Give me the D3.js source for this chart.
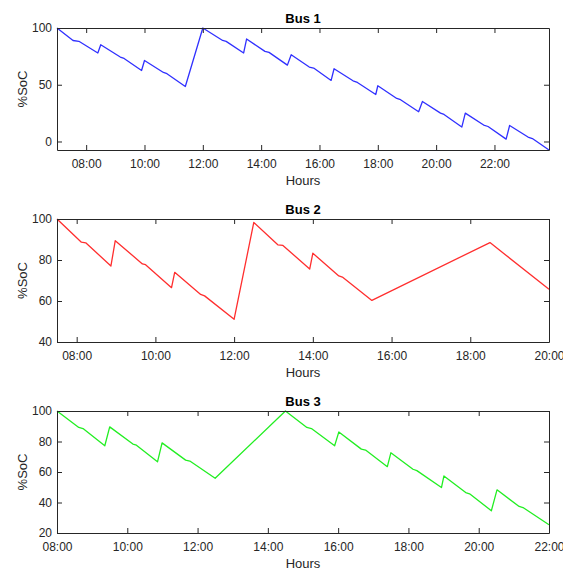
<!DOCTYPE html>
<html><head><meta charset="utf-8">
<script src="https://cdn.jsdelivr.net/npm/d3@7"></script>
<style>body{margin:0;background:#fff}svg{display:block}text{font-family:"Liberation Sans",Arial,sans-serif}</style>
</head><body>
<svg id="c" width="563" height="570"></svg>
<script>
// ---- data (hours as decimal, SoC in %) ----
const bus1Hours = [7.0,7.55,7.75,8.4,8.5,9.17,9.3,9.9,10.0,10.65,10.77,11.4,12.0,12.68,12.8,13.4,13.5,14.13,14.27,14.9,15.03,15.65,15.8,16.4,16.5,17.15,17.3,17.93,18.0,18.65,18.78,19.4,19.53,20.15,20.27,20.88,21.0,21.63,21.78,22.4,22.52,23.15,23.3,23.87];
const bus1SoC   = [100,89,88.3,78,85.3,74.4,73.2,62.6,71.4,60.8,59.7,48.5,100,89,88.2,78,90.3,79.4,78.5,67.3,76.5,65.6,64.7,53.8,64.1,53.5,52,41.4,49.1,37.9,36.8,26.2,35.3,25,23.8,12.7,25,14.5,13.2,2.1,14.1,3.9,2.6,-7.5];
const bus2Hours = [7.5,8.12,8.23,8.87,8.98,9.67,9.75,10.41,10.49,11.15,11.25,12.0,12.5,13.11,13.24,13.92,14.0,14.66,14.75,15.5,18.5,20.0];
const bus2SoC   = [100,88.7,88.4,77.1,89.4,78.1,77.7,66.5,74,63.2,62.5,51.1,98.3,87.4,87.1,75.6,83.3,72.2,71.7,60.3,88.5,65.7];
const bus3Hours = [8,8.62,8.74,9.36,9.5,10.16,10.26,10.86,10.99,11.66,11.78,12.5,14.5,15.11,15.24,15.9,16.02,16.66,16.78,17.4,17.5,18.13,18.24,18.94,19.01,19.63,19.74,20.36,20.52,21.15,21.26,22.0];
const bus3SoC   = [100,89.2,88.5,77.2,89.6,78.3,77.6,66.7,79.1,67.8,67.2,55.9,100,89.2,88.5,77.2,86.3,75,74.4,63.5,72.6,61.8,60.9,49.8,57.4,46.5,45.7,34.6,48.3,37.4,36.7,25.4];
const titles = ["Bus 1","Bus 2","Bus 3"];
const xTicks1 = [8,10,12,14,16,18,20,22];
const xTicks2 = [8,10,12,14,16,18,20];
const xTicks3 = [8,10,12,14,16,18,20,22];
const yTicks1 = [0,50,100];
const yTicks2 = [40,60,80,100];
const yTicks3 = [20,40,60,80,100];
const xLabel = "Hours", yLabel = "%SoC";

const panels = [
  {hours:bus1Hours, soc:bus1SoC, title:titles[0], xd:[7,23.87], yd:[-7.5,100], xt:xTicks1, yt:yTicks1, top:28, bottom:150, color:"#3030ff"},
  {hours:bus2Hours, soc:bus2SoC, title:titles[1], xd:[7.5,20], yd:[40,100], xt:xTicks2, yt:yTicks2, top:219, bottom:342, color:"#ff2e2e"},
  {hours:bus3Hours, soc:bus3SoC, title:titles[2], xd:[8,22], yd:[20,100], xt:xTicks3, yt:yTicks3, top:411, bottom:533, color:"#22ee22"}
];
const left = 57, right = 549, axisCol = "#262626";
const fmt = h => String(Math.floor(h)).padStart(2,"0") + ":" + String(Math.round((h%1)*60)).padStart(2,"0");
const svg = d3.select("#c");

panels.forEach(p => {
  const x = d3.scaleLinear().domain(p.xd).range([left,right]);
  const y = d3.scaleLinear().domain(p.yd).range([p.bottom,p.top]);
  const g = svg.append("g");
  const pts = p.hours.map((h,i)=>[h,p.soc[i]]);
  g.append("path").datum(pts)
    .attr("fill","none").attr("stroke",p.color).attr("stroke-width",1.3).attr("stroke-linejoin","round")
    .attr("d", d3.line().x(d=>x(d[0])).y(d=>y(d[1])));

  const styleAxis = a => {
    a.selectAll("path.domain").attr("stroke",axisCol).attr("stroke-width",1);
    a.selectAll(".tick line").attr("stroke",axisCol);
    a.selectAll("text").attr("fill",axisCol).attr("font-size",12).attr("font-family","Liberation Sans, Arial, sans-serif");
  };
  g.append("g").attr("transform",`translate(0,${p.bottom})`)
    .call(d3.axisBottom(x).tickValues(p.xt).tickFormat(fmt).tickSizeInner(-5).tickSizeOuter(0).tickPadding(9)).call(styleAxis);
  g.append("g").attr("transform",`translate(0,${p.top})`)
    .call(d3.axisTop(x).tickValues(p.xt).tickFormat("").tickSizeInner(-5).tickSizeOuter(0)).call(styleAxis);
  g.append("g").attr("transform",`translate(${left},0)`)
    .call(d3.axisLeft(y).tickValues(p.yt).tickSizeInner(-5).tickSizeOuter(0).tickPadding(5)).call(styleAxis);
  g.append("g").attr("transform",`translate(${right},0)`)
    .call(d3.axisRight(y).tickValues(p.yt).tickFormat("").tickSizeInner(-5).tickSizeOuter(0)).call(styleAxis);

  g.append("text").attr("x",(left+right)/2).attr("y",p.top-5).attr("text-anchor","middle")
    .attr("font-size",13).attr("font-weight","bold").attr("fill","#000").text(p.title);
  g.append("text").attr("x",(left+right)/2).attr("y",p.bottom+35).attr("text-anchor","middle")
    .attr("font-size",13).attr("fill",axisCol).text(xLabel);
  g.append("text").attr("transform",`translate(27,${(p.top+p.bottom)/2}) rotate(-90)`).attr("text-anchor","middle")
    .attr("font-size",13).attr("fill",axisCol).text(yLabel);
});
</script>
</body></html>
